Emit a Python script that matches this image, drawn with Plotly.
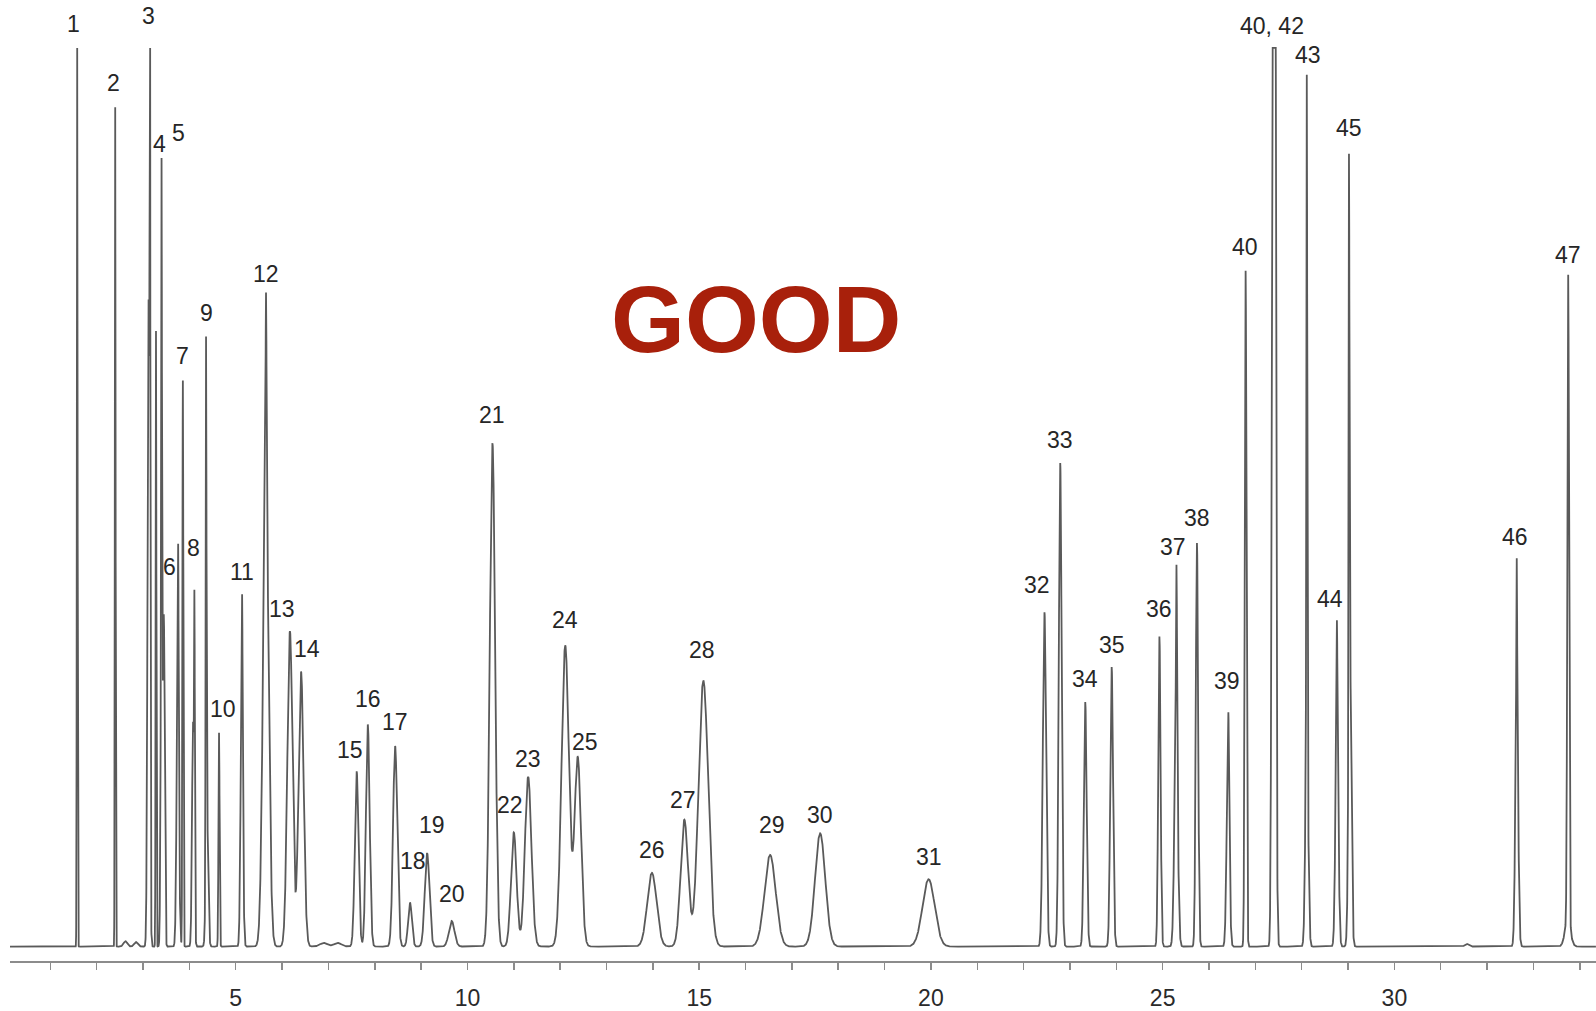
import numpy as np
import plotly.graph_objects as go

# ---- peak table (retention time in min, response, peak sigma in min)
peak_rt = [1.58, 2.40, 2.62, 2.85, 3.12, 3.15, 3.28, 3.40, 3.40, 3.45,
           3.75, 3.76, 3.86, 4.08, 4.11, 4.36, 4.38, 4.64, 5.13, 5.14,
           5.65, 5.655, 6.17, 6.41, 6.90, 7.20, 7.61, 7.85, 8.44, 8.76,
           9.13, 9.66, 10.54, 11.00, 11.31, 12.11, 12.38, 13.98, 14.68, 15.09,
           16.53, 17.61, 19.95, 22.45, 22.79, 23.33, 23.90, 24.93, 25.29, 25.30,
           25.74, 26.41, 26.42, 26.79, 27.40, 28.11, 28.11, 28.76, 28.76, 29.04,
           29.02, 31.56, 32.64, 32.64, 33.74, 33.75]
peak_height = [100, 93.4, 0.6, 0.5, 72, 100, 68.5, 42, 45, 36,
               30, 17, 63, 25, 29.5, 57, 15, 23.8, 28, 13,
               52, 21, 35.1, 30.6, 0.4, 0.4, 19.5, 24.7, 22.3, 4.9,
               10.4, 2.85, 56, 12.7, 18.9, 33.5, 21, 8.2, 14.1, 29.6,
               10.2, 12.6, 7.5, 37.2, 53.8, 27.2, 31.1, 34.5, 26, 17.5,
               44.9, 21, 6, 75.2, 300, 25, 72, 28, 8.3, 33,
               61.8, 0.3, 28, 15.2, 2.8, 72]
peak_sigma = [0.008, 0.008, 0.04, 0.04, 0.022, 0.007, 0.008, 0.018, 0.007, 0.018,
              0.025, 0.007, 0.01, 0.022, 0.008, 0.009, 0.025, 0.012, 0.025, 0.008,
              0.06, 0.01, 0.055, 0.055, 0.08, 0.08, 0.04, 0.04, 0.045, 0.04,
              0.05, 0.06, 0.057, 0.06, 0.07, 0.08, 0.07, 0.10, 0.08, 0.105,
              0.12, 0.11, 0.13, 0.035, 0.03, 0.03, 0.03, 0.025, 0.035, 0.01,
              0.025, 0.03, 0.008, 0.018, 0.028, 0.03, 0.009, 0.03, 0.008, 0.03,
              0.009, 0.04, 0.03, 0.008, 0.06, 0.018]
detector_max = 100  # saturated detector response

# ---- peak labels
label_text = ["1", "2", "3", "4", "5", "6", "7", "8", "9", "10",
              "11", "12", "13", "14", "15", "16", "17", "18", "19", "20",
              "21", "22", "23", "24", "25", "26", "27", "28", "29", "30",
              "31", "32", "33", "34", "35", "36", "37", "38", "39", "40",
              "40, 42", "43", "44", "45", "46", "47"]
label_rt = [1.50, 2.36, 3.11, 3.35, 3.76, 3.58, 3.86, 4.09, 4.36, 4.72,
            5.14, 5.65, 5.99, 6.53, 7.47, 7.86, 8.44, 8.83, 9.23, 9.66,
            10.52, 10.92, 11.31, 12.11, 12.54, 13.98, 14.66, 15.06, 16.57, 17.61,
            19.95, 22.28, 22.79, 23.33, 23.90, 24.93, 25.23, 25.74, 26.38, 26.78,
            27.35, 28.14, 28.61, 29.02, 32.60, 33.75]
label_level = [102.7, 96.1, 103.5, 89.3, 90.5, 42.2, 65.7, 44.3, 70.5, 26.4,
               41.7, 74.8, 37.6, 33.1, 21.9, 27.6, 25.0, 9.5, 13.5, 5.9,
               59.1, 15.7, 20.9, 36.3, 22.8, 10.7, 16.3, 33.0, 13.5, 14.6,
               9.95, 40.2, 56.4, 29.8, 33.5, 37.6, 44.5, 47.7, 29.6, 77.8,
               102.4, 99.2, 38.7, 91.1, 45.6, 77.0]

# ---- axis ticks (every minute, labelled every 5)
tick_vals = list(range(1, 35))
tick_text = [str(v) if v % 5 == 0 else "" for v in tick_vals]

x_range = [0.13, 34.35]
y_range = [-1.61, 105.33]

# ---- build the detector trace from the peak table
t = np.arange(x_range[0], x_range[1], 0.002)
signal = np.zeros_like(t)
for rt, h, s in zip(peak_rt, peak_height, peak_sigma):
    signal += h * np.exp(-0.5 * ((t - rt) / s) ** 2)
signal = np.minimum(signal, detector_max)

fig = go.Figure()
fig.add_trace(go.Scatter(
    x=t, y=signal, mode="lines",
    line=dict(color="#5a5a5a", width=1.8),
    hoverinfo="skip", showlegend=False,
))

annotations = []
for txt, x, y in zip(label_text, label_rt, label_level):
    annotations.append(dict(
        x=x, y=y, xref="x", yref="y", text=txt, showarrow=False,
        xanchor="center", yanchor="middle",
        font=dict(family="Liberation Sans, Arial, sans-serif", size=23, color="#262626"),
    ))
annotations.append(dict(
    x=16.22, y=69.8, xref="x", yref="y", text="<b>GOOD</b>", showarrow=False,
    xanchor="center", yanchor="middle",
    font=dict(family="Liberation Sans, Arial, sans-serif", size=95, color="#a8200b"),
))

fig.update_layout(
    width=1596, height=1011,
    margin=dict(l=10, r=0, t=0, b=48, pad=0),
    paper_bgcolor="white", plot_bgcolor="white",
    annotations=annotations,
    xaxis=dict(
        range=x_range, tickvals=tick_vals, ticktext=tick_text,
        showline=True, linecolor="#8c8c8c", linewidth=2,
        ticks="outside", ticklen=7, tickwidth=1.5, tickcolor="#8c8c8c",
        showgrid=False, zeroline=False,
        tickfont=dict(family="Liberation Sans, Arial, sans-serif", size=23, color="#2a2a2a"),
        ticklabelstandoff=8,
    ),
    yaxis=dict(range=y_range, visible=False, showgrid=False, zeroline=False),
)

fig.write_html(
    "out.html",
    config={"displayModeBar": False, "staticPlot": True},
    post_script="document.body.style.margin='0';document.body.style.overflow='hidden';",
)
